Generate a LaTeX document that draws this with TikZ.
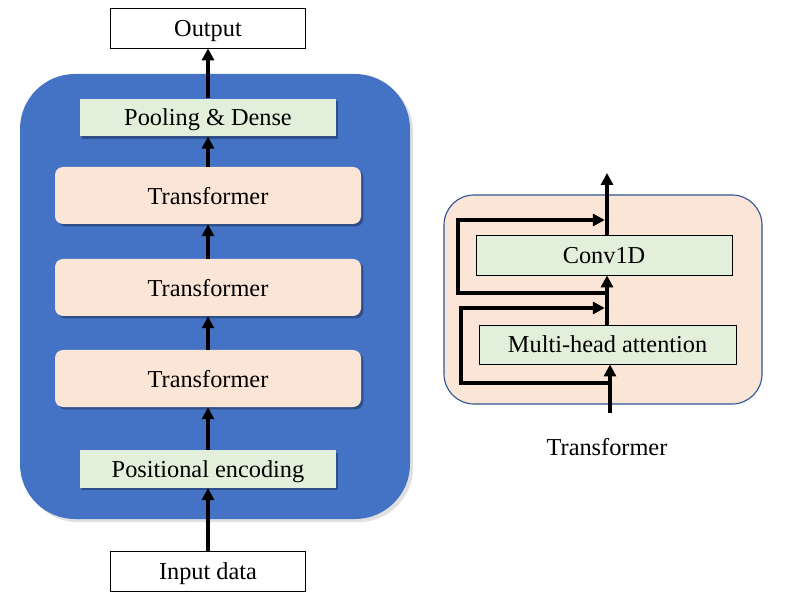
\documentclass[tikz,border=0pt]{standalone}
\usepackage{fontspec}
\setmainfont{Liberation Serif}
\usetikzlibrary{arrows.meta,shadows}
\definecolor{pptblue}{HTML}{4472C4}
\definecolor{pptgreen}{HTML}{E2EFDA}
\definecolor{pptpeach}{HTML}{FBE5D6}
\definecolor{pptedge}{HTML}{2F5597}
\begin{document}
\begin{tikzpicture}[
  font=\fontsize{17.3}{20}\selectfont,
  every node/.style={text depth=0pt},
  iobox/.style={draw, line width=0.6pt, fill=white, minimum width=4.875cm, minimum height=1cm},
  greenbox/.style={fill=pptgreen, minimum width=6.4cm, minimum height=0.94cm},
  tfbox/.style={fill=pptpeach, rounded corners=0.2cm, minimum width=7.65cm, minimum height=1.425cm},
  inbox/.style={draw, line width=0.6pt, fill=pptgreen, minimum height=1cm},
  softshadow/.style={drop shadow={shadow xshift=0.06cm, shadow yshift=-0.06cm, fill=black, opacity=0.3}},
  arr/.style={line width=2.8pt, -{Triangle[length=8.5pt,width=8.5pt]}}
]
  \useasboundingbox (0,0) rectangle (19.7,15.125);

  % Left: full model
  \fill[pptblue, rounded corners=1.375cm,
    drop shadow={shadow xshift=0.08cm, shadow yshift=-0.08cm, fill=black, opacity=0.12}]
    (0.5,2.15) rectangle (10.25,13.275);
  \node[iobox] (out) at (5.2,14.425) {Output};
  \node[greenbox, softshadow] (pool) at (5.2,12.1875) {Pooling \& Dense};
  \node[tfbox, softshadow] (tf1) at (5.2,10.2375) {Transformer};
  \node[tfbox, softshadow] (tf2) at (5.2,7.9375) {Transformer};
  \node[tfbox, softshadow] (tf3) at (5.2,5.6625) {Transformer};
  \node[greenbox, softshadow] (pe) at (5.2,3.4) {Positional encoding};
  \node[iobox] (inp) at (5.2,0.85) {Input data};
  \draw[arr] (inp) -- (pe);
  \draw[arr] (pe) -- (tf3);
  \draw[arr] (tf3) -- (tf2);
  \draw[arr] (tf2) -- (tf1);
  \draw[arr] (tf1) -- (pool);
  \draw[arr] (pool) -- (out);

  % Right: one transformer block
  \draw[pptedge, fill=pptpeach, line width=0.8pt, rounded corners=0.75cm]
    (11.1,5.025) rectangle (19.05,10.25);
  \node[inbox, minimum width=6.4cm] (conv) at (15.1,8.75) {Conv1D};
  \node[inbox, minimum width=6.425cm, minimum height=0.975cm] (mha) at (15.19,6.5125) {Multi-head attention};
  \coordinate (tin) at (15.25,4.8);
  \coordinate (tout) at (15.175,10.8);
  \coordinate (res2) at (15.25,5.55);
  \coordinate (res1) at (15.175,7.8);
  \draw[arr] (tin) -- (tin |- mha.south);
  \draw[arr] (mha.north -| tout) -- (conv.south -| tout);
  \draw[arr] (conv.north -| tout) -- (tout);
  \draw[arr] (res2) -- (11.525,5.55) -- (11.525,7.425) -- (15.12,7.425);
  \draw[arr] (res1) -- (11.45,7.8) -- (11.45,9.625) -- (15.12,9.625);
  \node (tlabel) at (15.175,3.95) {Transformer};
\end{tikzpicture}
\end{document}
